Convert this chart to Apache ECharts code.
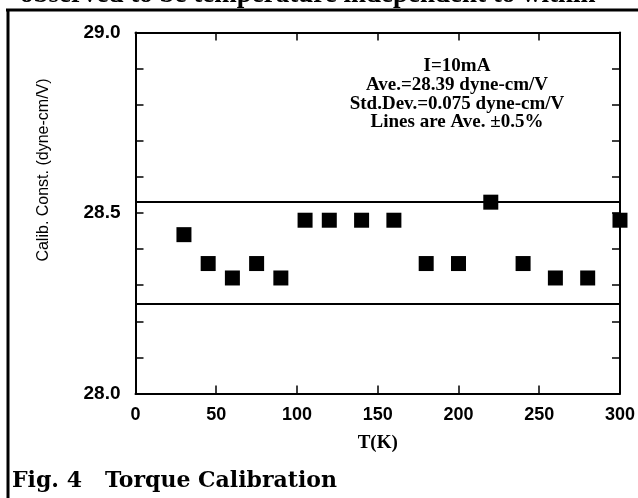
<!DOCTYPE html>
<html>
<head>
<meta charset="utf-8">
<script src="https://cdn.jsdelivr.net/npm/echarts@6/dist/echarts.min.js"></script>
<style>
html,body{margin:0;padding:0;background:#fff;}
#chart{width:638px;height:498px;}
</style>
</head>
<body>
<div id="chart"></div>
<script>
// Data
var temperatures = [30, 45, 60, 75, 90, 105, 120, 140, 160, 180, 200, 220, 240, 260, 280, 300];
var calibConst   = [28.44, 28.36, 28.32, 28.36, 28.32, 28.48, 28.48, 28.48, 28.48, 28.36, 28.36, 28.53, 28.36, 28.32, 28.32, 28.48];
var average = 28.39;
var bandFraction = 0.005;
var xTicks = [0, 50, 100, 150, 200, 250, 300];
var yLabelValues = [28.0, 28.5, 29.0];
var annotationLines = ['I=10mA', 'Ave.=28.39 dyne-cm/V', 'Std.Dev.=0.075 dyne-cm/V', 'Lines are Ave. \u00b10.5%'];
var yTitle = 'Calib. Const. (dyne-cm/V)';
var xTitle = 'T(K)';
var caption = 'Fig. 4   Torque Calibration';
var topText = 'observed to be temperature independent to within';

var chart = echarts.init(document.getElementById('chart'), null, {renderer: 'canvas'});
var points = temperatures.map(function (t, i) { return [t, calibConst[i]]; });
var upper = average * (1 + bandFraction);
var lower = average * (1 - bandFraction);

var axisLine = {show: true, onZero: false, lineStyle: {color: '#000', width: 2}};
var tickStyle = {show: true, inside: true, length: 8, lineStyle: {color: '#000', width: 1.5}};
var labelFont = {color: '#000', fontFamily: 'Liberation Sans', fontWeight: 'bold', fontSize: 18};

function isLabelled(v) {
  return yLabelValues.some(function (l) { return Math.abs(l - v) < 1e-6; });
}

var option = {
  animation: false,
  backgroundColor: '#fff',
  grid: {left: 135.5, right: 17, top: 32.5, bottom: 104.5, containLabel: false},
  xAxis: [{
    type: 'value', min: xTicks[0], max: xTicks[xTicks.length - 1], interval: 50,
    position: 'bottom',
    axisLine: axisLine, axisTick: tickStyle, splitLine: {show: false},
    axisLabel: Object.assign({margin: 13}, labelFont),
    name: xTitle, nameLocation: 'middle', nameGap: 40,
    nameTextStyle: {color: '#000', fontFamily: 'Liberation Serif', fontWeight: 'bold', fontSize: 19}
  }, {
    type: 'value', min: 0, max: 300, interval: 50, position: 'top',
    axisLine: axisLine, axisTick: tickStyle, splitLine: {show: false},
    axisLabel: {show: false}
  }],
  yAxis: [{
    type: 'value', min: 28.0, max: 29.0, interval: 0.1, position: 'left',
    axisLine: axisLine, axisTick: tickStyle, splitLine: {show: false},
    axisLabel: Object.assign({}, labelFont, {
      margin: 15, padding: [10, 0, 0, 0], fontSize: 19,
      formatter: function (v) { return isLabelled(v) ? v.toFixed(1) : ''; }
    })
  }, {
    type: 'value', min: 28.0, max: 29.0, interval: 0.1, position: 'right',
    axisLine: axisLine, axisTick: tickStyle, splitLine: {show: false},
    axisLabel: {show: false}
  }],
  series: [{
    type: 'scatter',
    data: points,
    symbol: 'rect',
    symbolSize: 15,
    itemStyle: {color: '#000', opacity: 1},
    markLine: {
      silent: true,
      symbol: ['none', 'none'],
      label: {show: false},
      lineStyle: {color: '#000', width: 2, type: 'solid', opacity: 1},
      data: [{yAxis: upper}, {yAxis: lower}]
    },
    z: 5
  }],
  graphic: [
    {type: 'text', x: 457, y: 57, style: {
      text: annotationLines.join('\n'),
      textAlign: 'center', textVerticalAlign: 'top', fill: '#000',
      font: 'bold 19px "Liberation Serif"', lineHeight: 18.7
    }},
    {type: 'text', x: 44, y: 170, rotation: Math.PI / 2, style: {
      text: yTitle, textAlign: 'center', textVerticalAlign: 'middle', fill: '#000',
      font: '16px "Liberation Sans"'
    }},
    {type: 'text', x: 12, y: 481, style: {
      text: caption, textAlign: 'left', textVerticalAlign: 'middle', fill: '#000',
      font: 'bold 22px "DejaVu Serif"'
    }},
    {type: 'text', x: 20, y: 9, style: {
      text: topText, textAlign: 'left', textVerticalAlign: 'bottom', fill: '#000',
      font: 'bold 27px "Liberation Serif"'
    }},
    {type: 'line', shape: {x1: 6, y1: 10, x2: 638, y2: 10}, style: {stroke: '#000', lineWidth: 3}},
    {type: 'line', shape: {x1: 8, y1: 9, x2: 8, y2: 498}, style: {stroke: '#000', lineWidth: 3}}
  ]
};
chart.setOption(option);
</script>
</body>
</html>
